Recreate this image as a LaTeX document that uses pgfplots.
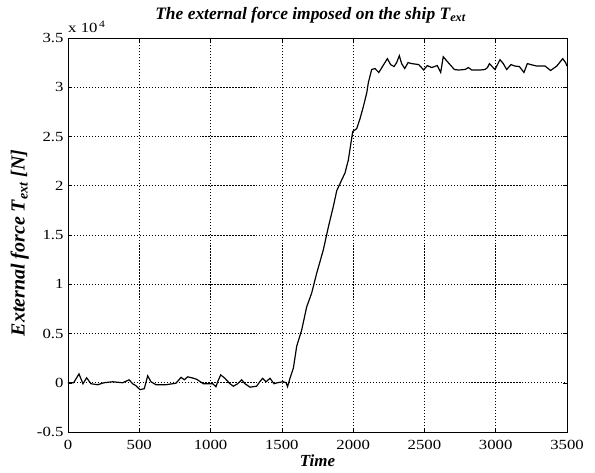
\documentclass[border=0pt]{standalone}
\usepackage{pgfplots}
\pgfplotsset{compat=1.18}
\usepackage{fontspec}
\setmainfont{Liberation Serif}
\newfontfamily\tickfont{Liberation Serif}[FakeStretch=1.2]
\begin{document}
\begin{tikzpicture}
\begin{axis}[
  scale only axis,
  width=499bp, height=394bp,
  xmin=0, xmax=3500, ymin=-0.5, ymax=3.5,
  xtick={0,500,...,3500},
  ytick={-0.5,0,0.5,1,1.5,2,2.5,3,3.5},
  yticklabels={-0.5,0,0.5,1,1.5,2,2.5,3,3.5},
  xticklabel style={yshift=-5bp, /pgf/number format/.cd, set thousands separator={}, assume math mode=true},
  /pgf/number format/assume math mode=true,
  ticklabel style={font=\tickfont\fontsize{14}{16}\selectfont},
  yticklabel style={xshift=-1bp},
  tick align=inside,
  major tick length=4bp,
  tick style={black, line width=0.5pt},
  axis line style={line width=0.9pt},
  grid=major,
  major grid style={black, line width=0.55pt, dash pattern=on 1.2pt off 1.8pt},
  title={\fontsize{17.5}{19}\selectfont\bfseries\itshape The external force imposed on the ship T\textsubscript{ext}},
  title style={at={(axis description cs:0.5,1)}, anchor=base, yshift=13bp, xshift=-7bp, inner sep=0pt},
  xlabel={\fontsize{17}{19}\selectfont\bfseries\itshape Time},
  xlabel style={at={(axis description cs:0.5,0)}, anchor=north, yshift=-23bp, inner sep=0pt},
  ylabel={\fontsize{20}{22}\selectfont\bfseries\itshape External force T\textsubscript{ext} [N]},
  ylabel style={at={(axis description cs:-0.078,0.48)}, anchor=south, inner sep=0pt},
  clip=false,
]
\addplot[black, line width=1.2pt] coordinates {
(0,0) (40,0.0) (77,0.09) (105,-0.01) (131,0.05) (161,-0.01) (208,-0.02) (252,0.0)
(313,0.01) (383,0.0) (429,0.03) (453,-0.01) (477,-0.03) (505,-0.07) (535,-0.06)
(559,0.07) (582,0.01) (617,-0.02) (687,-0.02) (757,-0.005) (793,0.055) (816,0.03)
(839,0.06) (870,0.05) (903,0.035) (949,-0.01) (996,-0.01) (1015,-0.01) (1038,-0.04)
(1050,0.01) (1071,0.08) (1101,0.045) (1136,-0.01) (1160,-0.035) (1190,-0.01)
(1218,0.03) (1241,-0.01) (1277,-0.045) (1323,-0.035) (1345,0.01) (1365,0.045)
(1389,0.01) (1417,0.045) (1445,-0.01) (1468,0.0) (1510,0.01) (1530,0.0) (1540,-0.04)
(1557,0.045) (1581,0.15) (1604,0.37) (1639,0.535) (1674,0.77) (1709,0.91) (1744,1.11)
(1791,1.35) (1826,1.58) (1861,1.79) (1885,1.95) (1920,2.06) (1943,2.13) (1966,2.26)
(1997,2.55) (2025,2.58) (2048,2.68) (2071,2.80) (2095,2.94) (2107,3.05) (2130,3.18)
(2153,3.19) (2180,3.15) (2210,3.22) (2240,3.29) (2263,3.23) (2287,3.21) (2305,3.25)
(2324,3.32) (2340,3.24) (2362,3.19) (2385,3.25) (2411,3.24) (2460,3.23) (2495,3.175)
(2520,3.22) (2551,3.20) (2590,3.22) (2614,3.15) (2632,3.31) (2667,3.25) (2710,3.18)
(2738,3.175) (2785,3.18) (2808,3.20) (2832,3.175) (2890,3.175) (2925,3.18) (2942,3.20)
(2956,3.24) (2972,3.215) (2995,3.18) (3030,3.28) (3053,3.24) (3077,3.18) (3107,3.23)
(3135,3.215) (3166,3.21) (3198,3.15) (3222,3.24) (3246,3.23) (3288,3.215) (3346,3.215)
(3385,3.17) (3428,3.215) (3470,3.29) (3490,3.25) (3500,3.215)
};
\node[anchor=base west, inner sep=0pt, font=\tickfont\fontsize{14}{16}\selectfont] at ([yshift=5bp]rel axis cs:0,1) {x 10\textsuperscript{\,4}};
\end{axis}
\path ([shift={(-68bp,-41bp)}]current axis.south west) rectangle ([shift={(28bp,38bp)}]current axis.north east);
\end{tikzpicture}
\end{document}
